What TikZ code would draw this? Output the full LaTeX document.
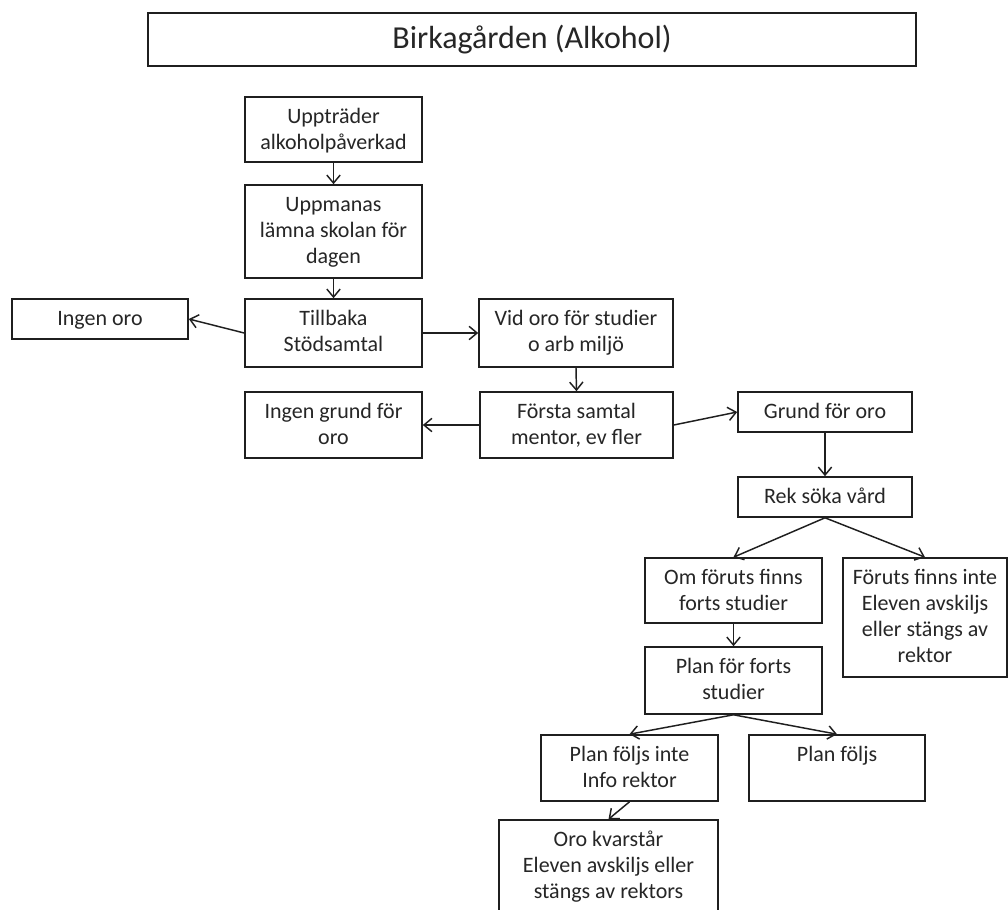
\documentclass[tikz,border=0pt]{standalone}
\usepackage{fontspec}
\setmainfont{Carlito}
\usetikzlibrary{arrows.meta,fit}
\begin{document}
\begin{tikzpicture}[x=0.75pt,y=-0.75pt,
  box/.style={draw=black!88, line width=1.2pt, inner sep=0pt, fit={#1}},
  txt/.style={anchor=north, align=center, inner sep=0pt, font=\fontsize{16.5}{19.5}\selectfont, text=black!85},
  conn/.style={draw=black!88, line width=1.1pt, -{Straight Barb[length=6pt,width=10pt,line width=1.1pt]}}]
\fill[white] (0,0) rectangle (1008,910);
\useasboundingbox (0,0) rectangle (1008,910);
\clip (0,0) rectangle (1008,910);

% boxes
\node[box={(148,13) (916,66)}] (title) {};
\node[box={(245,97) (422,162)}] (b1) {};
\node[box={(245,185) (422,278)}] (b2) {};
\node[box={(245,299) (422,367)}] (b3) {};
\node[box={(12,299) (188,339)}] (io) {};
\node[box={(479,299) (673,367)}] (vo) {};
\node[box={(245,392) (422,458)}] (ig) {};
\node[box={(480,392) (673,458)}] (fs) {};
\node[box={(738,392) (912,432)}] (gr) {};
\node[box={(738,477) (912,517)}] (rk) {};
\node[box={(645,558) (822,623)}] (om) {};
\node[box={(843,558) (1007,677)}] (fi) {};
\node[box={(645,647) (822,714)}] (pl) {};
\node[box={(541,735) (718,801)}] (pi) {};
\node[box={(749,735) (925,801)}] (pf) {};
\node[box={(499,820) (718,940)}] (ok) {};

% texts
\node[inner sep=0pt, font=\fontsize{24}{28}\selectfont, text=black!85] (ttitle) at (title.center) {Birkagården (Alkohol)};
\node[txt] (t1) at ([yshift=-8.5*0.75pt]b1.north) {\strut Uppträder\\alkoholpåverkad};
\node[txt] (t2) at ([yshift=-8.5*0.75pt]b2.north) {\strut Uppmanas\\lämna skolan för\\dagen};
\node[txt] (t3) at ([yshift=-8.5*0.75pt]b3.north) {\strut Tillbaka\\Stödsamtal};
\node[txt] (tio) at ([yshift=-8.5*0.75pt]io.north) {\strut Ingen oro};
\node[txt] (tvo) at ([yshift=-8.5*0.75pt]vo.north) {\strut Vid oro för studier\\o arb miljö};
\node[txt] (tig) at ([yshift=-8.5*0.75pt]ig.north) {\strut Ingen grund för\\oro};
\node[txt] (tfs) at ([yshift=-8.5*0.75pt]fs.north) {\strut Första samtal\\mentor, ev fler};
\node[txt] (tgr) at ([yshift=-8.5*0.75pt]gr.north) {\strut Grund för oro};
\node[txt] (trk) at ([yshift=-8.5*0.75pt]rk.north) {\strut Rek söka vård};
\node[txt] (tom) at ([yshift=-8.5*0.75pt]om.north) {\strut Om föruts finns\\forts studier};
\node[txt] (tfi) at ([yshift=-8.5*0.75pt]fi.north) {\strut Föruts finns inte\\Eleven avskiljs\\eller stängs av\\rektor};
\node[txt] (tpl) at ([yshift=-8.5*0.75pt]pl.north) {\strut Plan för forts\\studier};
\node[txt] (tpi) at ([yshift=-8.5*0.75pt]pi.north) {\strut Plan följs inte\\Info rektor};
\node[txt] (tpf) at ([yshift=-8.5*0.75pt]pf.north) {\strut Plan följs};
\node[txt] (tok) at ([yshift=-8.5*0.75pt]ok.north) {\strut Oro kvarstår\\Eleven avskiljs eller\\stängs av rektors};

% connectors
\draw[conn] (b1.south) -- (b2.north);
\draw[conn] (b2.south) -- (b3.north);
\draw[conn] (b3.west) -- (io.east);
\draw[conn] (b3.east) -- (vo.west);
\draw[conn] (vo.south) -- (fs.north);
\draw[conn] (fs.west) -- (ig.east);
\draw[conn] (fs.east) -- (gr.west);
\draw[conn] (gr.south) -- (rk.north);
\draw[conn] (rk.south) -- (om.north);
\draw[conn] (rk.south) -- (fi.north);
\draw[conn] (om.south) -- (pl.north);
\draw[conn] (pl.south) -- (pi.north);
\draw[conn] (pl.south) -- (pf.north);
\draw[conn] (pi.south) -- (ok.north);
\end{tikzpicture}
\end{document}
